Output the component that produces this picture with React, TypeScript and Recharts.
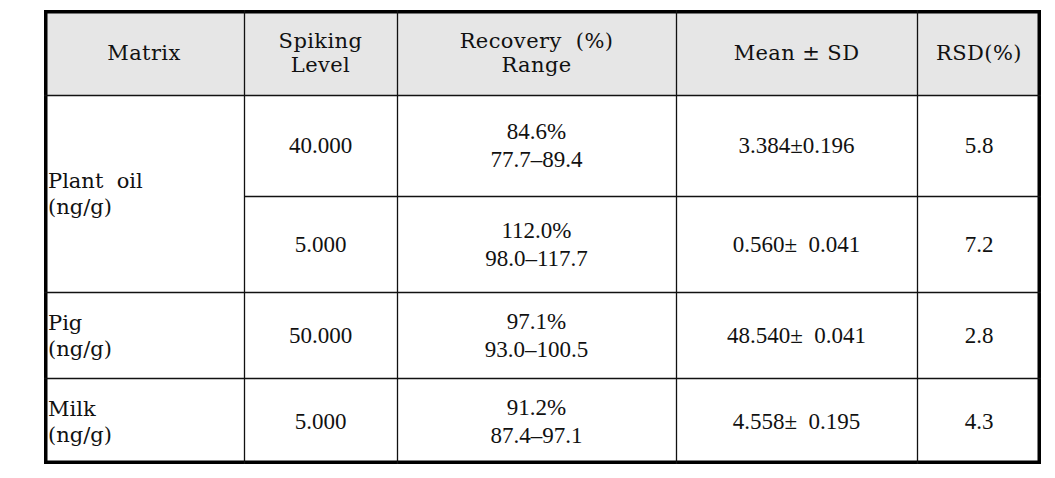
import {
  ComposedChart,
  Scatter,
  XAxis,
  YAxis,
  ReferenceArea,
  ReferenceLine,
} from "recharts";

// table content
const headers = ["Matrix", "Spiking\nLevel", "Recovery  (%)\nRange", "Mean ± SD", "RSD(%)"];
const matrices = ["Plant  oil\n(ng/g)", "Pig\n(ng/g)", "Milk\n(ng/g)"];
const matrixRowSpans = [2, 1, 1];
const spikingLevels = ["40.000", "5.000", "50.000", "5.000"];
const recoveryMeans = ["84.6%", "112.0%", "97.1%", "91.2%"];
const recoveryRanges = ["77.7–89.4", "98.0–117.7", "93.0–100.5", "87.4–97.1"];
const meanSd = ["3.384±0.196", "0.560±  0.041", "48.540±  0.041", "4.558±  0.195"];
const rsd = ["5.8", "7.2", "2.8", "4.3"];

// layout (in pixels of the 1055x478 frame)
const W = 1055;
const H = 478;
const COL_EDGES = [44, 244, 397, 676, 917, 1041];
const ROW_EDGES = [10, 95, 196, 292, 378, 464];

const STYLES: Record<string, { font: string; size: number; lead: number; cap: number; spacing: number }> = {
  header: { font: "'DejaVu Serif', serif", size: 21, lead: 24, cap: 15, spacing: 0.4 },
  matrix: { font: "'DejaVu Serif', serif", size: 21, lead: 26, cap: 15, spacing: 0 },
  body: { font: "'Liberation Serif', serif", size: 23, lead: 28, cap: 15, spacing: 0 },
};

type Cell = { x: number; y: number; lines: string[]; kind: string; anchor: string };

const colMid = (i: number) => (COL_EDGES[i] + COL_EDGES[i + 1]) / 2;
const rowMid = (a: number, b: number) => (ROW_EDGES[a] + ROW_EDGES[b]) / 2;

const cells: Cell[] = [];
headers.forEach((h, i) =>
  cells.push({ x: colMid(i), y: rowMid(0, 1), lines: h.split("\n"), kind: "header", anchor: "middle" })
);
let r = 1;
matrices.forEach((m, i) => {
  cells.push({
    x: COL_EDGES[0] + 4,
    y: rowMid(r, r + matrixRowSpans[i]),
    lines: m.split("\n"),
    kind: "matrix",
    anchor: "start",
  });
  r += matrixRowSpans[i];
});
spikingLevels.forEach((v, i) => {
  const y = rowMid(i + 1, i + 2);
  cells.push({ x: colMid(1), y, lines: [v], kind: "body", anchor: "middle" });
  cells.push({ x: colMid(2), y, lines: [recoveryMeans[i], recoveryRanges[i]], kind: "body", anchor: "middle" });
  cells.push({ x: colMid(3), y, lines: [meanSd[i]], kind: "body", anchor: "middle" });
  cells.push({ x: colMid(4), y, lines: [rsd[i]], kind: "body", anchor: "middle" });
});

function CellText(props: any) {
  const { cx, cy, payload } = props;
  const s = STYLES[payload.kind];
  const n = payload.lines.length;
  const first = cy - ((n - 1) * s.lead) / 2 + s.cap / 2;
  return (
    <text
      textAnchor={payload.anchor}
      fontFamily={s.font}
      fontSize={s.size}
      letterSpacing={s.spacing}
      fill="#111"
      style={{ whiteSpace: "pre" }}
    >
      {payload.lines.map((l: string, i: number) => (
        <tspan key={i} x={cx} y={first + i * s.lead}>
          {l}
        </tspan>
      ))}
    </text>
  );
}

export default function App() {
  const line = { stroke: "#111", strokeWidth: 1.3, ifOverflow: "visible" as const };
  return (
    <div style={{ position: "absolute", left: 0, top: 0, background: "#fff" }}>
      <ComposedChart width={W} height={H} margin={{ top: 0, right: 0, bottom: 0, left: 0 }}>
        <XAxis type="number" dataKey="x" domain={[0, W]} hide allowDataOverflow />
        <YAxis type="number" dataKey="y" domain={[0, H]} reversed hide allowDataOverflow />
        <ReferenceArea
          x1={COL_EDGES[0]}
          x2={COL_EDGES[5]}
          y1={ROW_EDGES[0]}
          y2={ROW_EDGES[1]}
          fill="#e6e6e6"
          fillOpacity={1}
          stroke="none"
        />
        {COL_EDGES.slice(1, -1).map((x) => (
          <ReferenceLine key={"c" + x} {...line} segment={[{ x: x + 0.5, y: ROW_EDGES[0] }, { x: x + 0.5, y: ROW_EDGES[5] }]} />
        ))}
        {ROW_EDGES.slice(1, -1).map((y, i) => (
          <ReferenceLine
            key={"r" + y}
            {...line}
            segment={[
              { x: i === 1 ? COL_EDGES[1] : COL_EDGES[0], y: y + 0.5 },
              { x: COL_EDGES[5], y: y + 0.5 },
            ]}
          />
        ))}
        <ReferenceArea
          x1={COL_EDGES[0] + 1.75}
          x2={COL_EDGES[5] - 1.75}
          y1={ROW_EDGES[0] + 1.75}
          y2={ROW_EDGES[5] - 1.75}
          fill="none"
          stroke="#000"
          strokeWidth={3.5}
        />
        <Scatter data={cells} shape={CellText} isAnimationActive={false} />
      </ComposedChart>
    </div>
  );
}
